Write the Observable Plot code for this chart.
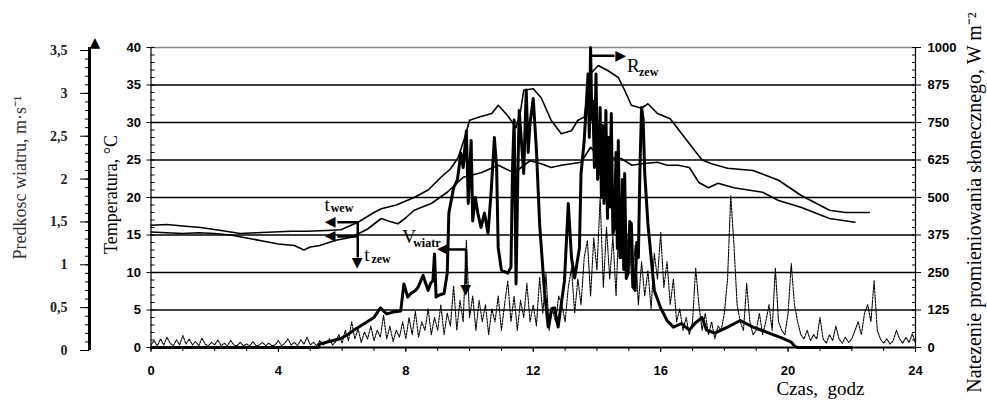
<!DOCTYPE html>
<html><head><meta charset="utf-8">
<script src="https://cdn.jsdelivr.net/npm/d3@7"></script>
<script src="https://cdn.jsdelivr.net/npm/@observablehq/plot@0.6"></script>
<style>
body{margin:0;background:#fff}
#chart{position:relative;width:987px;height:401px;overflow:hidden;background:#fff}
</style>
</head><body><div id="chart"></div>
<script>
// ---- data ----
const xTicks = [0, 4, 8, 12, 16, 20, 24];
const tempTicks = [0, 5, 10, 15, 20, 25, 30, 35, 40];
const windTicks = [0, 0.5, 1, 1.5, 2, 2.5, 3, 3.5];
const radTicks = [0, 125, 250, 375, 500, 625, 750, 875, 1000];

// t_wew (upper temperature curve), hours / °C
const tWewHours = [0,0.5,1,1.56,2.2,2.8,3.3,3.85,4.4,4.9,5.5,5.96,6.5,7,7.23,7.7,8.26,8.7,9.1,9.4,9.64,9.85,10,10.36,10.7,10.9,11.2,11.46,11.6,11.7,12,12.25,12.56,12.88,13.2,13.4,13.6,13.8,14.04,14.35,14.67,14.87,15.08,15.4,15.6,15.9,16.3,16.75,17.3,17.6,18.1,18.9,19.7,20.4,21.3,21.8,22.55];
const tWew = [16.3,16.4,16.2,16.0,15.6,15.2,15.3,15.4,15.5,15.5,15.6,15.7,16.7,18.0,18.5,19.0,20.0,21.0,22.7,23.8,25.3,28.0,30.3,30.8,31.2,32.3,30.9,29.3,31.5,34.3,34.5,33.3,30.3,28.5,28.9,30.3,30.7,36.5,37.6,36.9,36.0,34.3,32.3,31.9,32.5,31.2,30.5,28.0,25.0,24.5,23.9,23.6,22.3,20.3,18.3,18.0,18.0];

// t_zew (lower temperature curve), hours / °C
const tZewHours = [0,0.5,1,1.5,2,2.5,3,3.5,4,4.5,4.8,5,5.3,5.8,6.3,6.8,7.23,7.5,7.75,8,8.26,8.8,9.3,9.8,10.36,10.9,11.4,11.9,12.25,12.56,12.88,13.2,13.5,13.8,14.1,14.45,14.76,15.1,15.4,15.9,16.2,16.55,16.9,17.2,17.5,17.8,18.3,19.2,19.7,20.4,21.3,22.1];
const tZew = [15.4,15.3,15.2,15.3,15.2,15.0,14.6,14.2,13.8,13.6,13.0,13.4,13.6,14.3,14.7,15.8,17.2,16.8,16.5,17.3,18.3,19.2,20.7,22.7,23.3,24.3,23.3,24.9,24.5,24.0,24.3,24.5,24.7,26.7,25.2,25.3,25.2,24.3,24.5,24.7,24.3,24.3,24.0,22.0,21.3,21.9,21.3,20.7,19.6,18.7,17.2,16.7];

// R_zew solar radiation, hours / W m-2
const rHours = [
0,5.25,5.3,5.6,5.96,6.2,6.37,6.7,7.0,7.2,
7.4,7.6,7.84,7.94,8.06,8.16,8.3,8.38,8.54,8.7,
8.78,8.85,8.9,8.95,9.05,9.2,9.3,9.35,9.5,9.62,
9.73,9.8,9.9,9.96,10.05,10.1,10.18,10.26,10.36,10.47,
10.58,10.68,10.78,10.85,10.9,11.0,11.2,11.3,11.35,11.4,
11.46,11.52,11.56,11.7,11.78,11.84,11.9,12.0,12.1,12.2,
12.35,12.47,12.58,12.67,12.78,12.98,13.1,13.2,13.3,13.45,
13.5,13.6,13.72,13.76,13.8,13.84,13.87,13.92,13.97,14.02,
14.07,14.1,14.14,14.18,14.22,14.25,14.28,14.33,14.37,14.4,
14.45,14.5,14.55,14.6,14.64,14.67,14.72,14.76,14.8,14.84,
14.87,14.92,14.98,15.03,15.08,15.14,15.2,15.25,15.3,15.35,
15.4,15.45,15.5,15.6,15.7,15.8,16.0,16.2,16.4,16.65,
16.9,17.07,17.3,17.44,17.7,18.1,18.5,18.9,19.4,19.8,
20.1,20.2,20.3,22.0];
const radiation = [
0,0,12,20,30,45,58,80,100,132,
112,118,122,212,168,180,190,200,240,190,
215,222,312,168,175,180,248,448,532,560,
648,600,722,480,690,422,500,448,400,448,
380,522,700,600,332,258,248,268,600,758,
212,600,790,580,858,650,748,830,658,412,
190,68,130,132,68,222,480,300,232,332,
580,690,912,700,1000,760,822,600,912,560,
632,800,500,740,480,558,790,430,700,468,
780,380,400,650,330,690,300,300,560,260,
580,230,248,420,412,200,190,350,300,600,
800,760,580,412,300,190,132,90,68,80,
58,80,100,58,48,68,90,68,48,32,
18,5,0,0];

// V_wiatr wind speed, m/s, every 0.1 h from 0 to 24 h
const wind = [
0.03,0.08,0.02,0.10,0.03,0.12,0.05,0.02,0.09,0.03,
0.14,0.04,0.10,0.03,0.07,0.02,0.11,0.04,0.02,0.06,
0.03,0.09,0.02,0.05,0.02,0.08,0.03,0.02,0.06,0.02,
0.04,0.02,0.07,0.02,0.03,0.06,0.02,0.05,0.02,0.03,
0.08,0.02,0.05,0.10,0.03,0.06,0.02,0.09,0.04,0.12,
0.03,0.06,0.02,0.08,0.03,0.05,0.10,0.03,0.07,0.15,
0.05,0.20,0.08,0.30,0.10,0.22,0.06,0.18,0.10,0.25,
0.08,0.20,0.12,0.38,0.10,0.25,0.07,0.20,0.12,0.30,
0.10,0.35,0.15,0.42,0.12,0.30,0.20,0.45,0.15,0.35,
0.20,0.50,0.15,0.40,0.25,0.72,0.20,0.55,0.30,1.25,
0.35,0.60,0.20,0.55,0.30,0.50,0.15,0.45,0.30,0.60,
0.20,0.50,0.78,0.30,0.60,0.20,0.55,0.35,0.75,0.30,
0.50,0.25,0.82,0.40,0.86,0.20,0.45,0.30,0.60,0.50,
0.30,0.70,0.93,0.40,0.80,0.50,1.05,1.25,0.60,1.28,
0.90,1.75,0.70,1.40,0.80,1.30,0.60,1.60,1.75,1.00,
1.40,0.70,1.20,0.50,1.00,0.60,0.90,0.45,1.10,0.80,
1.34,0.70,1.00,0.50,0.80,0.30,0.45,0.20,0.35,0.15,
0.30,0.93,0.50,0.20,0.40,0.15,0.30,0.10,0.25,0.20,
0.40,0.80,1.77,1.20,0.50,0.30,0.20,0.75,0.30,0.15,
0.20,0.40,0.15,0.30,0.50,0.20,0.93,0.30,0.20,0.15,
0.40,0.98,0.50,0.30,0.15,0.10,0.20,0.08,0.15,0.10,
0.35,0.10,0.05,0.15,0.08,0.25,0.10,0.05,0.12,0.06,
0.10,0.20,0.30,0.15,0.40,0.50,0.30,0.78,0.20,0.10,
0.05,0.10,0.04,0.08,0.20,0.10,0.05,0.12,0.06,0.16,
0.05];

// annotation anchors (hour, °C)
const annoMain = [
  {h: 5.53, t: 19.0, s: "t"},
  {h: 6.78, t: 12.4, s: "t"},
  {h: 8.1, t: 14.8, s: "V"},
  {h: 15.14, t: 37.5, s: "R"}
];
const annoSub = [
  {h: 5.64, t: 18.55, s: "wew"},
  {h: 6.92, t: 11.75, s: "zew"},
  {h: 8.23, t: 13.95, s: "wiatr"},
  {h: 15.32, t: 36.75, s: "zew"}
];
const arrowLines = [
  {h1: 6.52, t1: 16.7, h2: 5.85, t2: 16.7},
  {h1: 6.49, t1: 16.7, h2: 6.49, t2: 12.0},
  {h1: 6.49, t1: 14.8, h2: 5.85, t2: 14.8},
  {h1: 9.89, t1: 13.07, h2: 9.3, t2: 13.07},
  {h1: 9.89, t1: 13.07, h2: 9.89, t2: 8.4},
  {h1: 13.79, t1: 38.9, h2: 14.55, t2: 38.9}
];
const arrowHeads = [
  {h: 5.64, t: 16.7, dir: "left"},
  {h: 6.49, t: 11.3, dir: "down"},
  {h: 5.64, t: 14.8, dir: "left"},
  {h: 9.16, t: 13.07, dir: "left"},
  {h: 9.89, t: 7.6, dir: "down"},
  {h: 14.76, t: 38.9, dir: "right"}
];

// ---- build ----
const K = 40 / 3.5;   // wind m/s -> °C-axis units
const RK = 25;        // W m-2 per °C-axis unit
const windData = wind.map((v, i) => ({h: i / 10, v}));
const wewData = tWewHours.map((h, i) => ({h, t: tWew[i]}));
const zewData = tZewHours.map((h, i) => ({h, t: tZew[i]}));
const rData = rHours.map((h, i) => ({h, r: radiation[i]}));
const glyph = {left: "\u25C0", right: "\u25B6", down: "\u25BC"};
const headDx = {left: 5, right: -5, down: 0};
const headDy = {left: 0, right: 0, down: -4};
const comma = v => String(Math.round(v * 10) / 10).replace(".", ",");
const serif = "Liberation Serif, Times New Roman, serif";
const sans = "Liberation Sans, Arial, sans-serif";

const chart = Plot.plot({
  width: 987, height: 401,
  marginLeft: 150.5, marginRight: 72, marginTop: 47, marginBottom: 54,
  x: {domain: [0, 24]},
  y: {domain: [0, 40]},
  style: {fontFamily: sans, background: "#fff", overflow: "visible"},
  marks: [
    Plot.ruleY(tempTicks.filter(t => t > 0 && t < 40), {stroke: "#000", strokeWidth: 1.3}),
    Plot.ruleY([40], {stroke: "#888", strokeWidth: 1.3}),
    Plot.line(windData, {x: "h", y: d => d.v * K, stroke: "#000", strokeWidth: 1.1, strokeDasharray: "2,1.2"}),
    Plot.line(wewData, {x: "h", y: "t", stroke: "#000", strokeWidth: 1.6}),
    Plot.line(zewData, {x: "h", y: "t", stroke: "#000", strokeWidth: 1.6}),
    Plot.line(rData, {x: "h", y: d => d.r / RK, stroke: "#000", strokeWidth: 3}),
    Plot.ruleY([0], {stroke: "#000", strokeWidth: 2}),
    Plot.ruleX([0, 24], {stroke: "#000", strokeWidth: 1.2}),
    // x axis
    Plot.axisX(xTicks, {tickSize: 5, tickPadding: 13, fontSize: 13, fontWeight: "bold", label: null}),
    Plot.axisX(d3.range(0, 25), {tickSize: 4, text: null, label: null}),
    // left temperature axis
    Plot.axisY(tempTicks, {anchor: "left", tickSize: 4, tickPadding: 6, fontSize: 13, fontWeight: "bold", label: null}),
    Plot.axisY(d3.range(0, 41), {anchor: "left", tickSize: 4, dx: 4, text: null, label: null}),
    // right radiation axis
    Plot.axisY(radTicks.map(r => r / RK), {anchor: "right", tickSize: 5, tickPadding: 7, fontSize: 13, fontWeight: "bold", tickFormat: d => String(Math.round(d * RK)), label: null}),
    Plot.axisY(d3.range(0, 41), {anchor: "right", tickSize: 4, dx: -4, text: null, label: null}),
    // wind axis
    Plot.ruleX([0], {y1: 0, y2: 40.4, dx: -61.5, dy: 3, stroke: "#000", strokeWidth: 3}),
    Plot.text(["\u25B2"], {frameAnchor: "top-left", dx: -61.5, dy: -10, fontSize: 14, fontFamily: "DejaVu Sans", fill: "#000"}),
    Plot.axisY(windTicks.map(v => v * K), {anchor: "left", dx: -61.5, dy: 3, tickSize: 9, tickPadding: 13, fontSize: 14, fontWeight: "bold", fontFamily: serif, fill: "#222", tickFormat: d => comma(d / K), label: null}),
    Plot.axisY(d3.range(0, 36).map(i => i / 10 * K), {anchor: "left", dx: -61.5, dy: 3, tickSize: 4, text: null, label: null}),
    // axis titles
    Plot.text(["Temperatura, \u00B0C"], {frameAnchor: "left", textAnchor: "middle", dx: -40, dy: -3, rotate: -90, fontFamily: serif, fontSize: 18, fill: "#000"}),
    Plot.text(["Predkosc wiatru, m\u00B7s\u207B\u00B9"], {frameAnchor: "left", textAnchor: "middle", dx: -131, dy: -20, rotate: -90, fontFamily: serif, fontSize: 18, fill: "#333"}),
    Plot.text(["Natezenie promieniowania s\u0142onecznego, W m\u207B\u00B2"], {frameAnchor: "right", textAnchor: "middle", dx: 59, dy: 5, rotate: -90, fontFamily: serif, fontSize: 20, fill: "#000"}),
    Plot.text(["Czas,\u00A0 godz"], {frameAnchor: "bottom-right", textAnchor: "middle", dx: -95, dy: 47, fontFamily: serif, fontSize: 19, fill: "#000"}),
    // annotations
    Plot.link(arrowLines, {x1: "h1", y1: "t1", x2: "h2", y2: "t2", stroke: "#000", strokeWidth: 2.5}),
    Plot.text(arrowHeads, {x: "h", y: "t", text: d => glyph[d.dir], dx: d => headDx[d.dir], dy: d => headDy[d.dir], fontSize: 14, fontFamily: "DejaVu Sans", fill: "#000"}),
    Plot.text(annoMain, {x: "h", y: "t", text: "s", fontFamily: serif, fontSize: 19, fill: "#000"}),
    Plot.text(annoSub, {x: "h", y: "t", text: "s", textAnchor: "start", fontFamily: serif, fontSize: 12, fontWeight: "bold", fill: "#000"})
  ]
});
document.getElementById("chart").appendChild(chart);
</script>
</body></html>
